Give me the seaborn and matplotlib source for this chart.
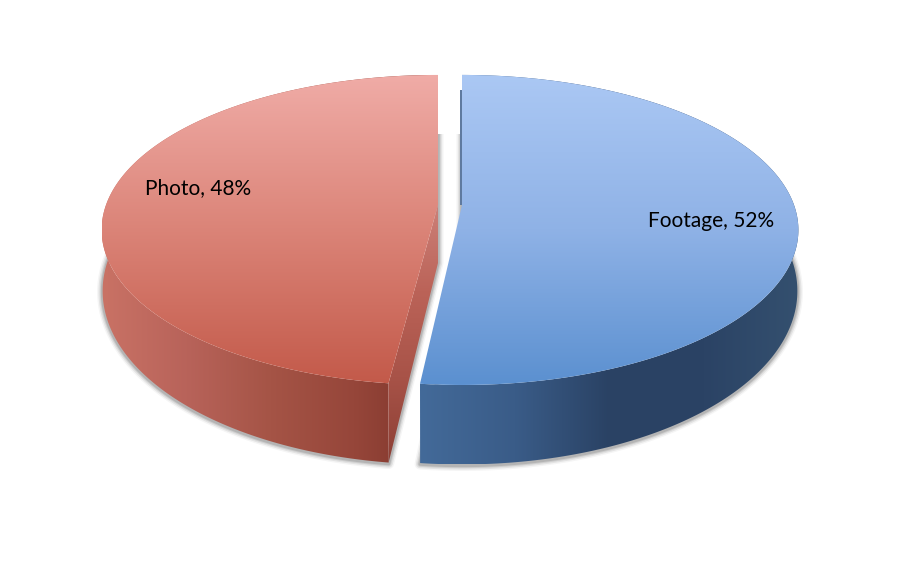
import numpy as np
import matplotlib
matplotlib.use("Agg")
import matplotlib.pyplot as plt
from matplotlib.patches import Polygon
import seaborn as sns

categories = ["Footage", "Photo"]
shares = [52, 48]

sns.set_theme(style="white")
plt.rcParams['font.family'] = ['Lato', 'DejaVu Sans']

# ---- layout / perspective of the disc (pixels) ----
W, H = 900, 562
KP = 0.161
TOP = dict(y0=205, a=332, b=151)
BOT = dict(y0=263, a=331, b=169)
APEX_X = {"Footage": 462, "Photo": 438}
LABEL_POS = {"Footage": (711, 221), "Photo": (198, 188)}
TRIM = {"Footage": 1.1, "Photo": 0.0}

TOP_COL = {"Footage": ["#abc8f4", "#8fb2e6", "#5b90d0"],
           "Photo": ["#f0aca7", "#db8478", "#c35a4a"]}
SIDE_COL = {"Footage": ["#436a99", "#3a5c88", "#2a4264", "#2b4365", "#34506f"],
            "Photo": ["#c97265", "#b8635a", "#a55446", "#96463a", "#7c3329"]}
CUT_COL = {"Photo": ["#cc8078", "#bb6358", "#a85348", "#8c3f35"]}


def project(theta_deg, apex_x, geo):
    t = np.radians(theta_deg)
    u, v = np.sin(t), np.cos(t)
    d = 1 + KP * v
    return np.column_stack([apex_x + geo["a"] * u / d, geo["y0"] - geo["b"] * v / d])


def grad_fill(ax, pts, colors, vertical=True, zorder=2):
    pts = np.asarray(pts)
    x0, x1, y0, y1 = pts[:, 0].min(), pts[:, 0].max(), pts[:, 1].min(), pts[:, 1].max()
    cmap = sns.blend_palette(colors, n_colors=256, as_cmap=True)
    g = np.linspace(0, 1, 256)
    arr = g[:, None] if vertical else g[None, :]
    patch = Polygon(pts, closed=True, transform=ax.transData, fc="none", ec="none")
    ax.add_patch(patch)
    im = ax.imshow(arr, cmap=cmap, extent=(x0, x1, y1, y0), origin="upper",
                   aspect="auto", interpolation="bilinear", zorder=zorder)
    im.set_clip_path(patch)
    return im


fig = plt.figure(figsize=(W / 100, H / 100), dpi=100, facecolor="white")
ax = fig.add_axes([0, 0, 1, 1])

sweeps = np.array(shares) / np.sum(shares) * 360
spans = {"Footage": (0.0, sweeps[0] - TRIM["Footage"]),
         "Photo": (sweeps[0], 360.0)}

for name in categories:
    ax_x = APEX_X[name]
    th = np.linspace(*spans[name], 300)
    top_arc = project(th, ax_x, TOP)
    bot_arc = project(th, ax_x, BOT)
    apex_top = [ax_x, TOP["y0"]]
    apex_bot = [ax_x, BOT["y0"]]

    # soft shadow below the slice, hard-cut near the back
    outline = np.vstack([apex_bot, bot_arc + [0, 1]])
    clip = plt.Rectangle((0, 134), W, H, transform=ax.transData, fc="none", ec="none")
    ax.add_patch(clip)
    for lw, alpha in zip([8, 6, 4, 2.5], [0.04, 0.07, 0.09, 0.12]):
        shadow = Polygon(outline, closed=True, fc="none", ec="black", lw=lw,
                         alpha=alpha, zorder=1, joinstyle="round")
        ax.add_patch(shadow)
        shadow.set_clip_path(clip)

    # outer wall
    side = np.vstack([top_arc, bot_arc[::-1]])
    grad_fill(ax, side, SIDE_COL[name], vertical=False, zorder=2)

    # inner cut wall
    if name in CUT_COL:
        cut = np.array([apex_top, top_arc[0], bot_arc[0], apex_bot])
        grad_fill(ax, cut, CUT_COL[name], vertical=True, zorder=3)
    else:
        ax.fill([ax_x - 1.8, ax_x, ax_x, ax_x - 1.8],
                [TOP["y0"] - 115, TOP["y0"] - 115, TOP["y0"], TOP["y0"]],
                color="#5f7a9f", lw=0, zorder=3)

    # top face
    face = np.vstack([apex_top, top_arc])
    grad_fill(ax, face, TOP_COL[name], vertical=True, zorder=4)

for name, val in zip(categories, shares):
    x, y = LABEL_POS[name]
    ax.text(x, y, f"{name}, {val}%", ha="center", va="center",
            fontsize=15, color="black", zorder=6)

ax.set_xlim(0, W)
ax.set_ylim(H, 0)
ax.axis("off")
fig.savefig("out.png", dpi=100, facecolor="white")
